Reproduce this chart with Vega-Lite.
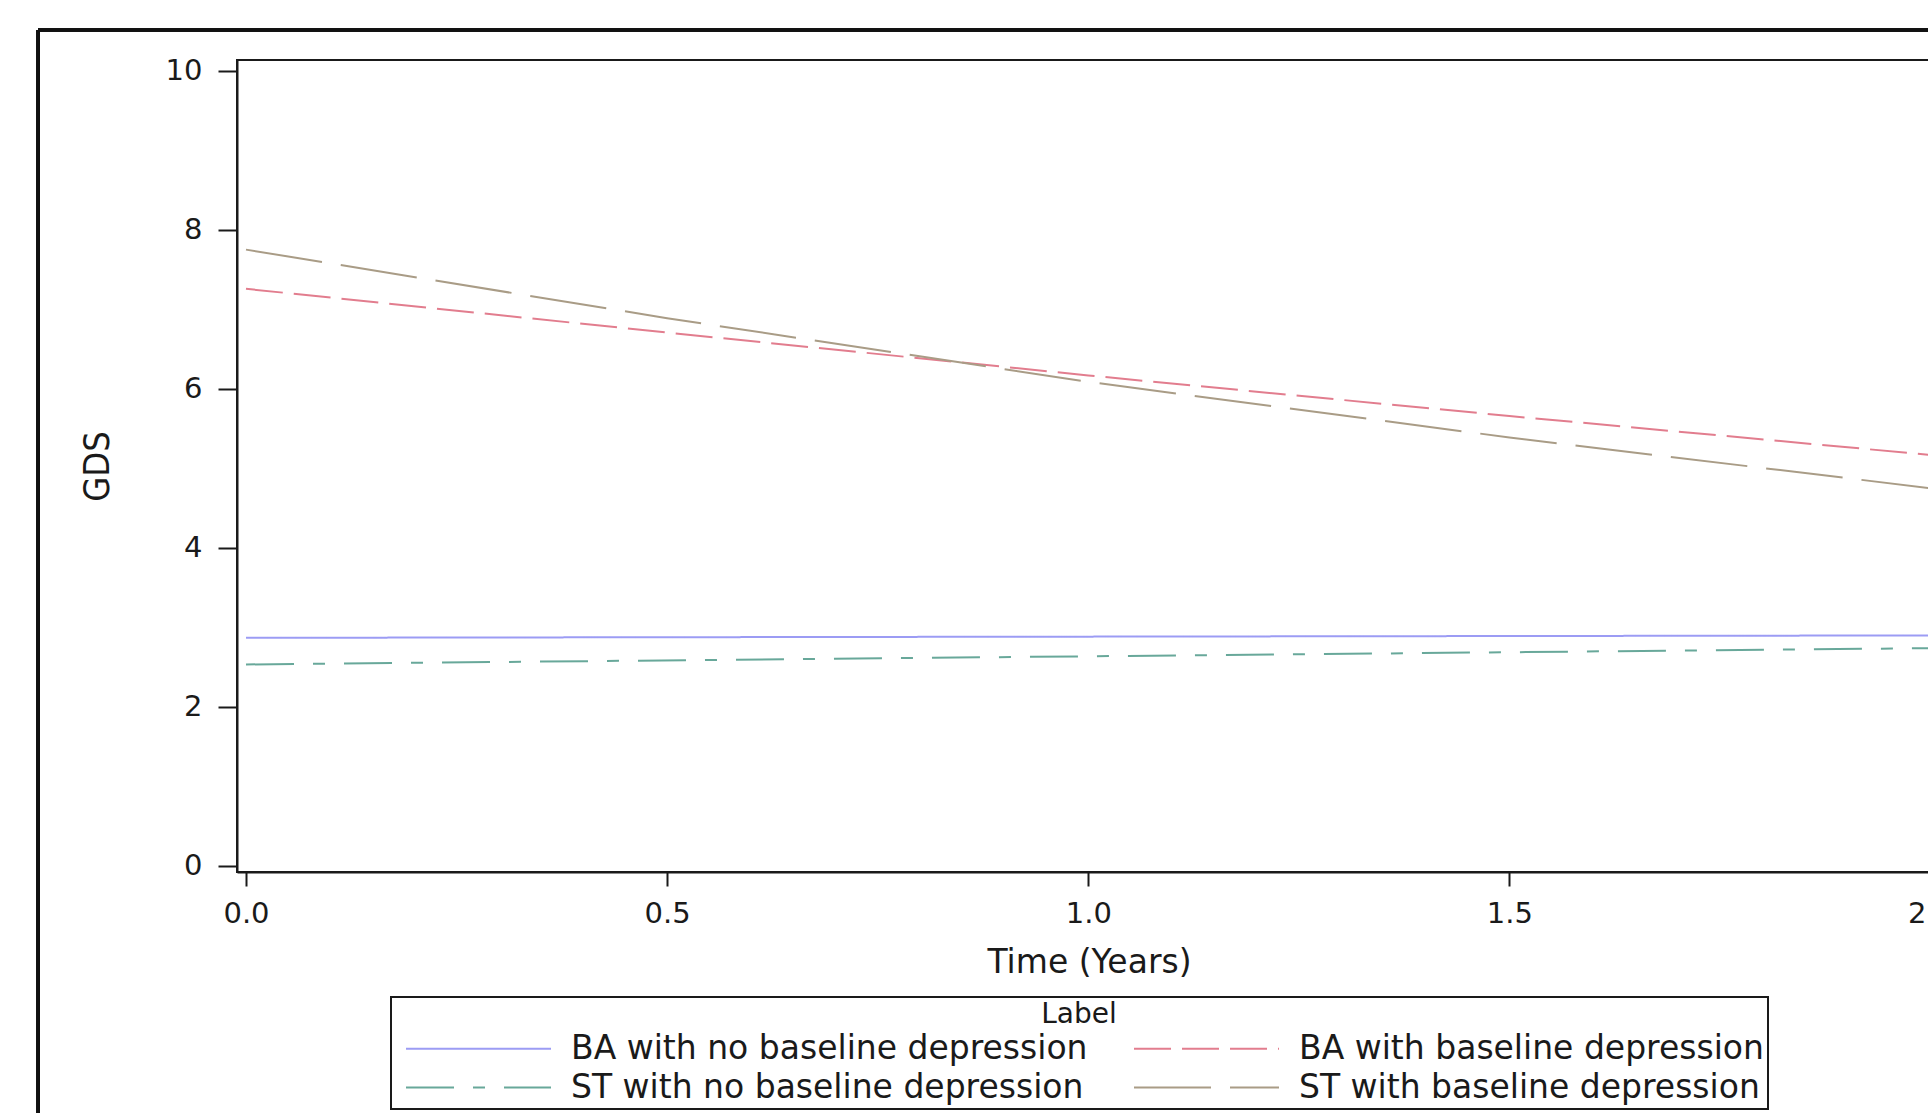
{
  "$schema": "https://vega.github.io/schema/vega-lite/v6.json",
  "autosize": {"type": "none"},
  "padding": {"left": 237, "top": 60, "right": -3, "bottom": 241},
  "width": 1694,
  "height": 812,
  "background": "white",
  "config": {
    "font": "DejaVu Sans",
    "view": {"stroke": "#1a1a1a", "strokeWidth": 2},
    "axis": {
      "grid": false,
      "labelFont": "DejaVu Sans",
      "labelColor": "#1a1a1a",
      "labelFontSize": 29,
      "titleColor": "#1a1a1a",
      "titleFontWeight": "normal",
      "domainColor": "#1a1a1a",
      "domainWidth": 2,
      "tickColor": "#1a1a1a",
      "tickWidth": 2,
      "labelFlush": false,
      "labelOverlap": false,
      "labelBound": false
    },
    "legend": {
      "orient": "none",
      "legendX": 154,
      "legendY": 937,
      "columns": 2,
      "direction": "horizontal",
      "strokeColor": "#1a1a1a",
      "strokeWidth": 2,
      "padding": 4,
      "titleAnchor": "middle",
      "titleFont": "DejaVu Sans",
      "titleFontSize": 28,
      "titleFontWeight": "normal",
      "titleColor": "#1a1a1a",
      "titlePadding": 3,
      "labelFont": "DejaVu Sans",
      "labelFontSize": 33,
      "labelColor": "#1a1a1a",
      "labelLimit": 1000,
      "labelOffset": 19,
      "symbolOffset": 10,
      "symbolType": "stroke",
      "symbolSize": 21025,
      "symbolStrokeWidth": 2,
      "clipHeight": 33,
      "columnPadding": 35,
      "rowPadding": 5
    }
  },
  "data": {
    "values": [
      {"group": "BA with no baseline depression", "time": 0, "gds": 2.87},
      {"group": "BA with no baseline depression", "time": 2, "gds": 2.9},
      {"group": "BA with baseline depression", "time": 0, "gds": 7.26},
      {"group": "BA with baseline depression", "time": 0.5, "gds": 6.71},
      {"group": "BA with baseline depression", "time": 1, "gds": 6.17},
      {"group": "BA with baseline depression", "time": 1.5, "gds": 5.66},
      {"group": "BA with baseline depression", "time": 2, "gds": 5.17},
      {"group": "ST with no baseline depression", "time": 0, "gds": 2.535},
      {"group": "ST with no baseline depression", "time": 2, "gds": 2.74},
      {"group": "ST with baseline depression", "time": 0, "gds": 7.753},
      {"group": "ST with baseline depression", "time": 0.5, "gds": 6.89},
      {"group": "ST with baseline depression", "time": 1, "gds": 6.09},
      {"group": "ST with baseline depression", "time": 1.5, "gds": 5.39},
      {"group": "ST with baseline depression", "time": 2, "gds": 4.752}
    ]
  },
  "layer": [
    {
      "mark": {"type": "rule", "clip": false, "color": "#111111", "strokeWidth": 2.5},
      "encoding": {
        "x": {"datum": -0.2469, "type": "quantitative", "scale": {"domain": [-0.01068, 2.0005], "nice": false, "zero": false}},
        "y": {"datum": 10.516, "type": "quantitative", "scale": {"domain": [-0.0755, 10.138], "nice": false, "zero": false}},
        "y2": {"datum": -3.3}
      }
    },
    {
      "mark": {"type": "rule", "clip": false, "color": "#111111", "strokeWidth": 2.5},
      "encoding": {
        "x": {"datum": -0.2469, "type": "quantitative", "scale": {"domain": [-0.01068, 2.0005], "nice": false, "zero": false}},
        "x2": {"datum": 2.3},
        "y": {"datum": 10.516, "type": "quantitative", "scale": {"domain": [-0.0755, 10.138], "nice": false, "zero": false}}
      }
    },
    {
      "mark": {"type": "line", "strokeWidth": 2, "clip": true},
      "encoding": {
        "x": {
          "field": "time",
          "type": "quantitative",
          "scale": {"domain": [-0.01068, 2.0005], "nice": false, "zero": false},
          "axis": {
            "title": "Time (Years)",
            "values": [0, 0.5, 1, 1.5, 2],
            "format": ".1f",
            "tickSize": 14,
            "labelPadding": 13,
            "titleFont": "DejaVu Sans",
            "titleFontSize": 33,
            "titleX": 852,
            "titleY": 100,
            "titleBaseline": "alphabetic",
            "titleAlign": "center"
          }
        },
        "y": {
          "field": "gds",
          "type": "quantitative",
          "scale": {"domain": [-0.0755, 10.138], "nice": false, "zero": false},
          "axis": {
            "title": "GDS",
            "values": [0, 2, 4, 6, 8, 10],
            "format": "d",
            "tickSize": 19,
            "labelPadding": 16,
            "titleFont": "Liberation Sans Narrow, DejaVu Sans Condensed, DejaVu Sans",
            "titleFontSize": 36,
            "titleAngle": -90,
            "titleX": -129,
            "titleY": 406,
            "titleBaseline": "alphabetic",
            "titleAlign": "center"
          }
        },
        "color": {
          "field": "group",
          "type": "nominal",
          "title": "Label",
          "scale": {
            "domain": ["BA with no baseline depression", "BA with baseline depression", "ST with no baseline depression", "ST with baseline depression"],
            "range": ["#9c9cf4", "#e27d8e", "#68a89a", "#a99c86"]
          }
        },
        "strokeDash": {
          "field": "group",
          "type": "nominal",
          "title": "Label",
          "scale": {
            "domain": ["BA with no baseline depression", "BA with baseline depression", "ST with no baseline depression", "ST with baseline depression"],
            "range": [[1, 0], [37, 11], [48, 19, 12, 19], [77, 19]]
          }
        }
      }
    }
  ]
}
